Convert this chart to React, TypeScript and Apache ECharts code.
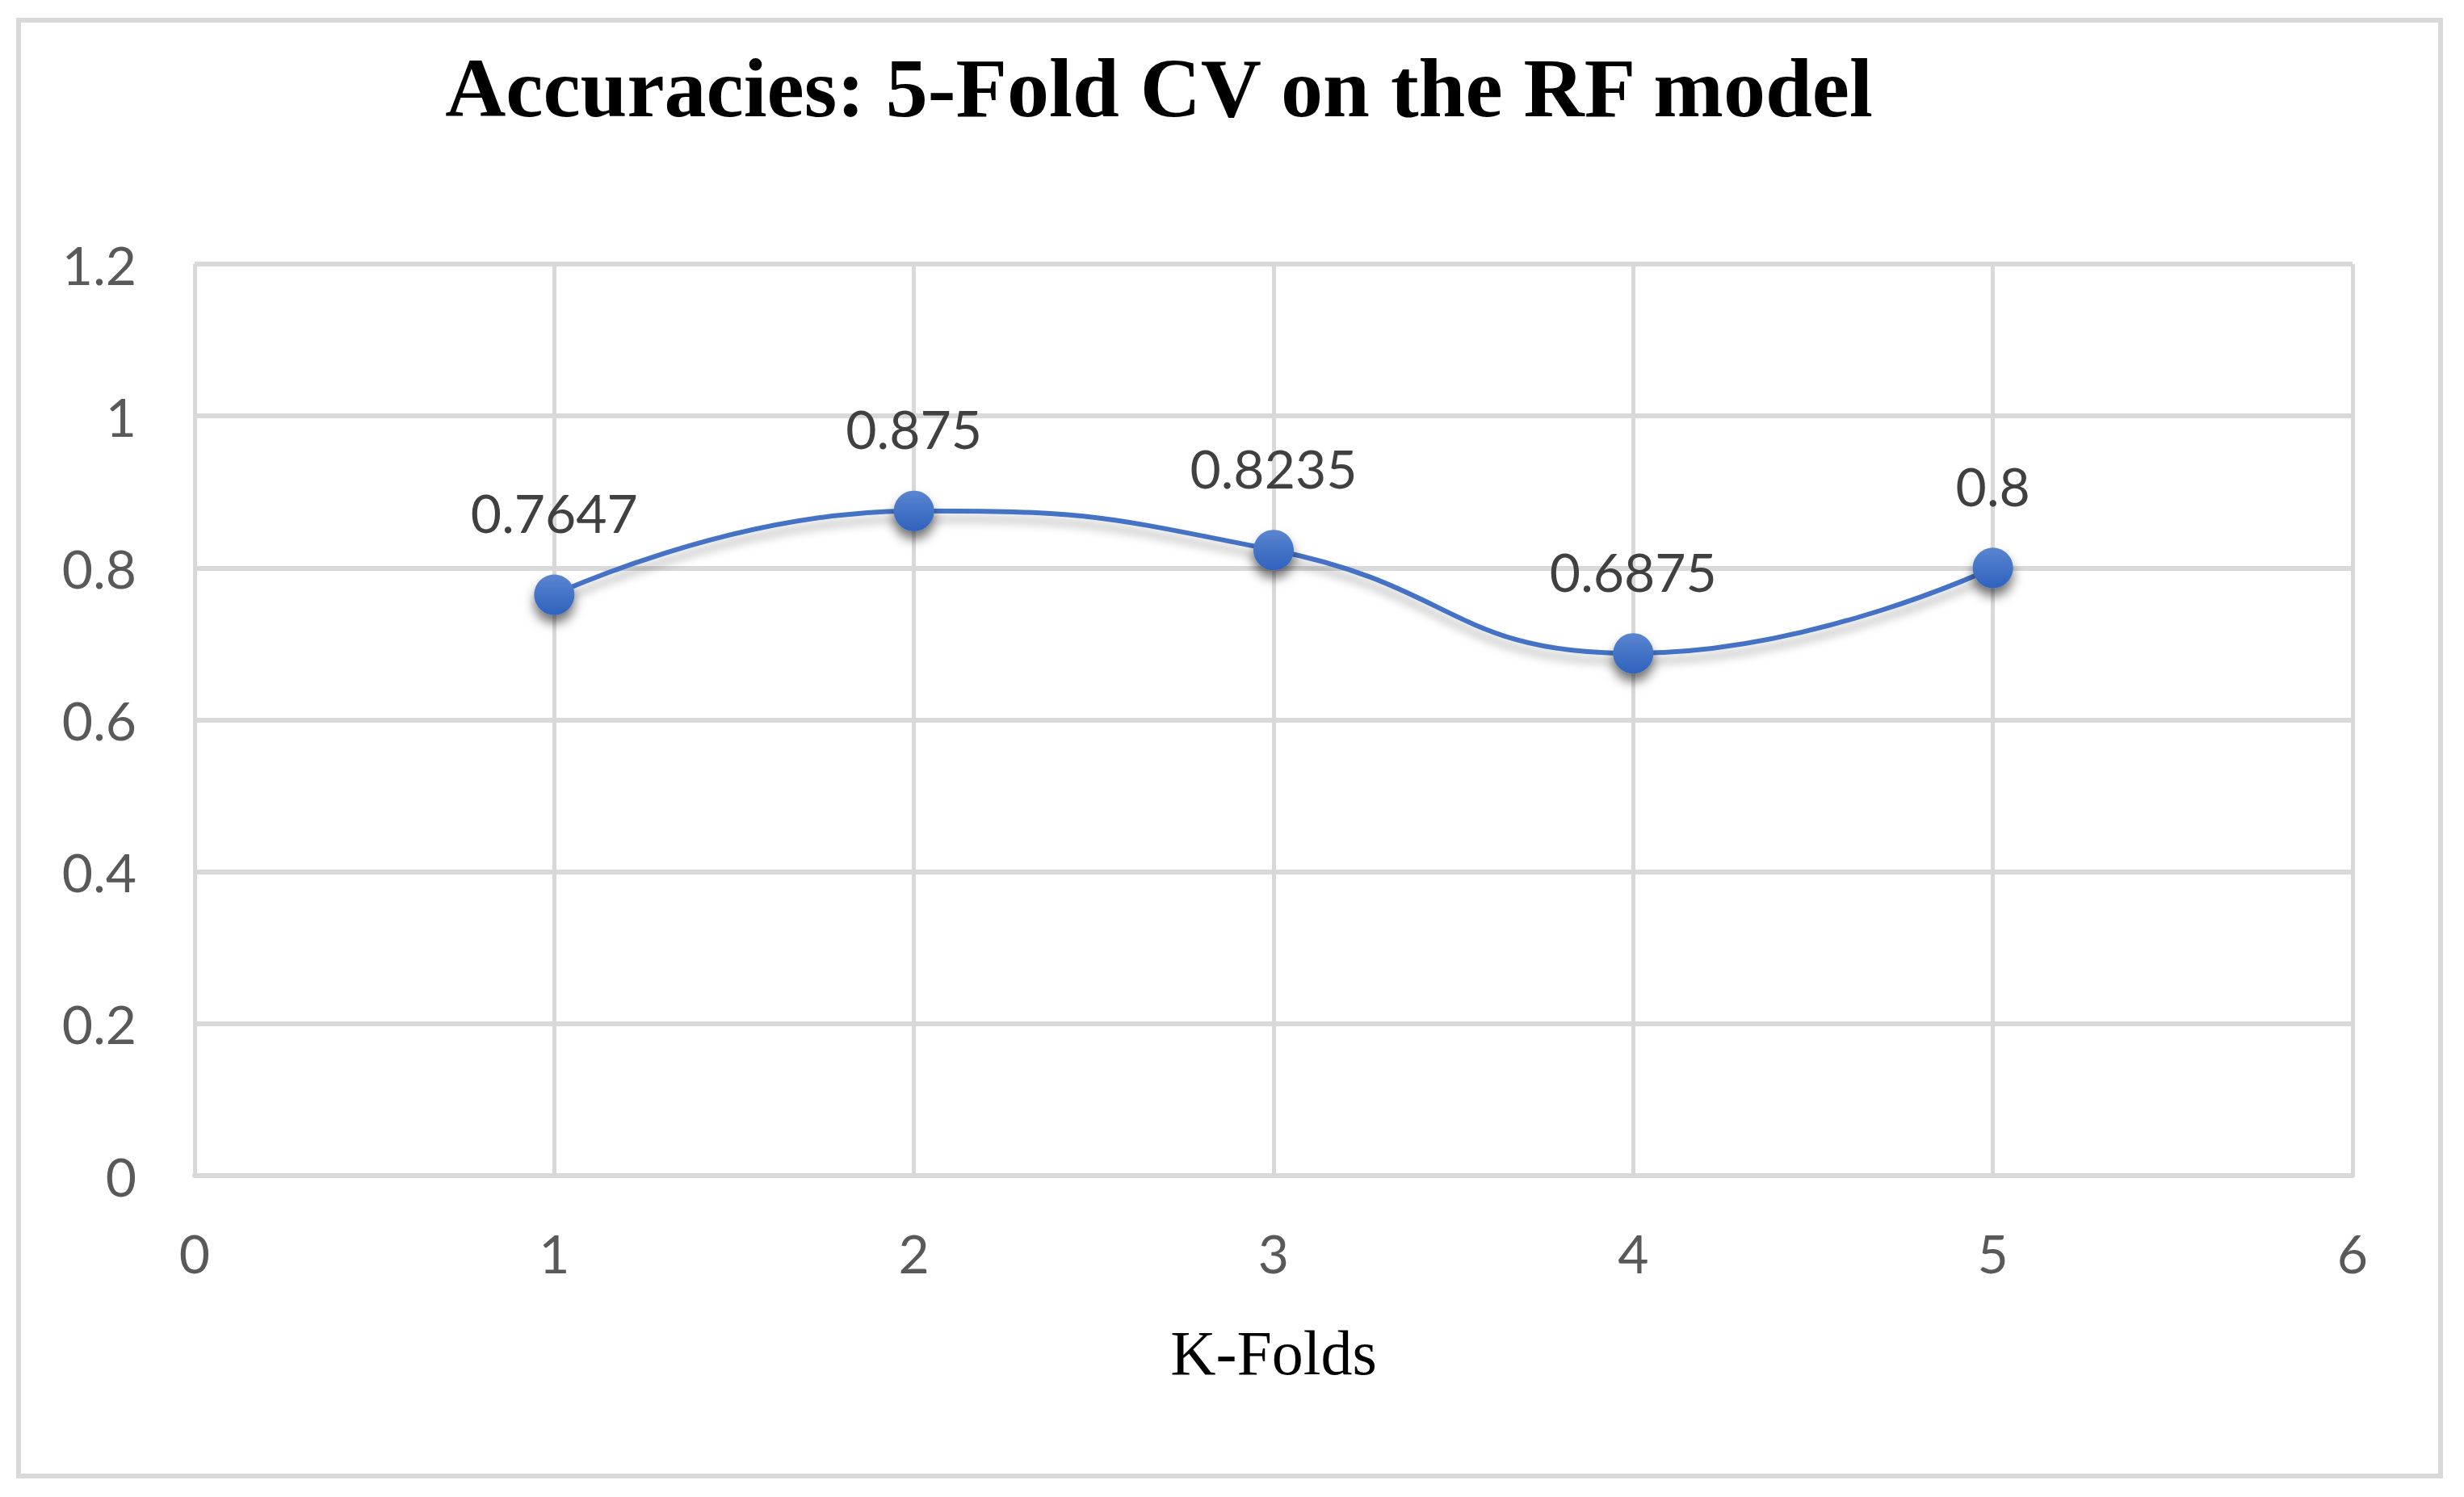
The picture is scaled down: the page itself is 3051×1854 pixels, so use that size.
import React, { useEffect, useRef } from "react";
import * as echarts from "echarts";

const folds = [1, 2, 3, 4, 5];
const accuracies = [0.7647, 0.875, 0.8235, 0.6875, 0.8];
const xTicks = [0, 1, 2, 3, 4, 5, 6];
const yTicks = [0, 0.2, 0.4, 0.6, 0.8, 1, 1.2];
const titleText = "Accuracies: 5-Fold CV on the RF model";
const xAxisTitle = "K-Folds";

const W = 3051;
const H = 1854;

export default function App() {
  const ref = useRef<HTMLDivElement>(null);
  useEffect(() => {
    if (!ref.current) return;
    const chart = echarts.init(ref.current, null, { renderer: "svg", width: W, height: H });
    const gridColor = "#d9d9d9";
    const option = {
      animation: false,
      backgroundColor: "#ffffff",
      graphic: [
        {
          type: "rect",
          shape: { x: 23, y: 25, width: 2999, height: 1803 },
          style: { fill: "none", stroke: gridColor, lineWidth: 6 },
          z: 0,
        },
        {
          type: "text",
          x: 1435,
          y: 108,
          style: {
            text: titleText,
            fill: "#000000",
            font: "bold 104px 'Liberation Serif', serif",
            textAlign: "center",
            textVerticalAlign: "middle",
          },
        },
      ],
      grid: { left: 241, right: W - 2913, top: 327, bottom: H - 1456, containLabel: false },
      xAxis: {
        type: "value",
        min: xTicks[0],
        max: xTicks[xTicks.length - 1],
        interval: 1,
        name: xAxisTitle,
        nameLocation: "middle",
        nameGap: 180,
        nameTextStyle: {
          fontFamily: "'Liberation Serif', serif",
          fontSize: 78,
          color: "#000000",
        },
        axisLine: { show: true, lineStyle: { color: gridColor, width: 6 } },
        axisTick: { show: false },
        axisLabel: {
          fontFamily: "Lato",
          fontSize: 66,
          color: "#595959",
          margin: 62,
          formatter: (v: number) => String(v),
        },
        splitLine: { show: true, lineStyle: { color: gridColor, width: 5 } },
      },
      yAxis: {
        type: "value",
        min: yTicks[0],
        max: yTicks[yTicks.length - 1],
        interval: 0.2,
        axisLine: { show: false },
        axisTick: { show: false },
        axisLabel: {
          fontFamily: "Lato",
          fontSize: 66,
          color: "#595959",
          margin: 72,
          formatter: (v: number) => String(Math.round(v * 10) / 10),
        },
        splitLine: { show: true, lineStyle: { color: gridColor, width: 6 } },
      },
      series: [
        {
          type: "line",
          data: folds.map((f, i) => [f, accuracies[i]]),
          smooth: 0.5,
          symbol: "circle",
          symbolSize: 50,
          lineStyle: {
            color: "#4472C4",
            width: 6,
            shadowColor: "rgba(0,0,0,0.3)",
            shadowBlur: 12,
            shadowOffsetY: 10,
          },
          itemStyle: {
            color: new echarts.graphic.LinearGradient(0, 0, 0, 1, [
              { offset: 0, color: "#5a85d0" },
              { offset: 1, color: "#2f62bd" },
            ]),
            borderWidth: 0,
            shadowColor: "rgba(0,0,0,0.55)",
            shadowBlur: 14,
            shadowOffsetY: 10,
          },
          label: {
            show: true,
            position: "top",
            distance: 44,
            fontFamily: "Lato",
            fontSize: 66,
            color: "#404040",
            formatter: (p: any) => String(p.value[1]),
          },
          z: 5,
        },
      ],
    };
    chart.setOption(option as any);
    return () => chart.dispose();
  }, []);
  return (
    <div
      ref={ref}
      style={{ position: "fixed", left: 0, top: 0, width: W, height: H, background: "#fff" }}
    />
  );
}
